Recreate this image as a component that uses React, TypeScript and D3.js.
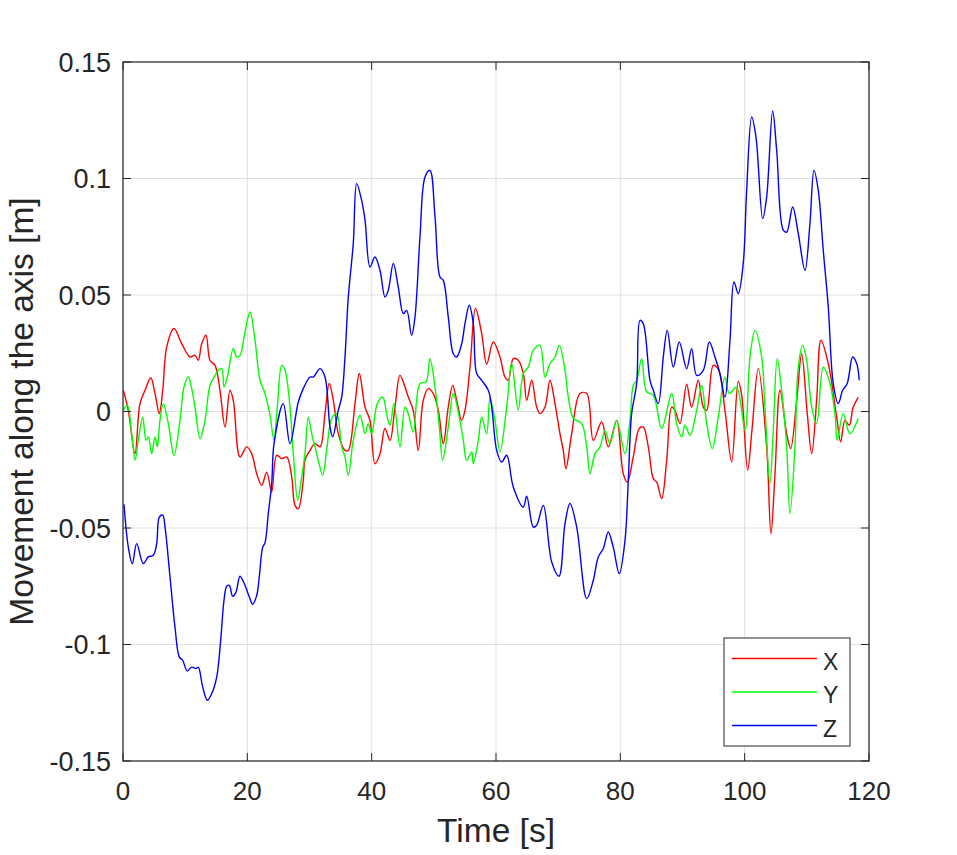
import * as d3 from 'd3';

// time [s], movement [m]
const seriesX: [number, number][] = [
  [0.05, 0.0091], [0.85, 0.0005], [1.93, -0.0181], [2.73, 0.0034], [3.54, 0.0091], [4.46, 0.0145],
  [5.15, 0.0077], [5.84, -0.0009], [6.39, 0.0091], [7.03, 0.0277], [8.2, 0.0356], [9.44, 0.0291],
  [10.78, 0.0234], [11.58, 0.0241], [12.11, 0.022], [12.66, 0.0291], [13.35, 0.0327], [13.99, 0.022],
  [14.8, 0.0198], [15.6, 0.0091], [16.41, -0.0067], [17.21, 0.0091], [17.74, 0.0048], [18.82, -0.0195],
  [19.9, -0.0152], [20.7, -0.0181], [21.51, -0.0267], [22.31, -0.0317], [23.11, -0.026], [23.92, -0.0345],
  [24.72, -0.0188], [25.53, -0.0202], [26.33, -0.0195], [27.14, -0.0281], [27.67, -0.0403], [28.2, -0.0417],
  [29.0, -0.0295], [29.27, -0.0209], [30.08, -0.0167], [30.88, -0.0138], [31.69, -0.0152], [32.49, -0.0009],
  [33.18, 0.012], [33.83, 0.0048], [34.63, -0.0095], [35.71, -0.0167], [36.24, -0.0167], [37.32, 0.0034],
  [38.01, 0.0163], [38.93, 0.0019], [39.73, -0.0038], [40.53, -0.0224], [41.34, -0.0181], [42.14, -0.0073],
  [42.95, -0.0124], [43.75, 0.0019], [44.56, 0.0155], [45.36, 0.0105], [45.89, 0.0062], [46.69, 0.0005],
  [47.5, -0.0167], [48.3, 0.0048], [49.11, 0.0098], [49.91, 0.0077], [50.72, 0.0005], [51.52, -0.0138],
  [52.32, 0.0019], [53.03, 0.0112], [53.68, 0.0048], [54.48, -0.0038], [55.01, 0.0005], [55.82, 0.0191],
  [56.7, 0.0442], [57.7, 0.0334], [58.5, 0.0203], [59.56, 0.0298], [60.64, 0.0234], [61.44, 0.0148],
  [61.98, 0.0134], [62.78, 0.0227], [63.58, 0.022], [64.39, 0.0163], [64.94, 0.0048], [65.74, 0.0134],
  [66.54, 0.0019], [67.07, -0.0009], [67.88, 0.0019], [68.68, 0.0134], [69.49, 0.0034], [70.29, -0.0095],
  [70.82, -0.0167], [71.26, -0.0245], [72.17, -0.0095], [73.51, 0.0077], [74.59, 0.0077], [75.65, -0.0124],
  [77.0, -0.0045], [78.06, -0.0152], [79.41, -0.0038], [80.47, -0.0267], [81.12, -0.0303], [82.08, -0.0195],
  [83.05, -0.0073], [83.69, -0.0067], [84.5, -0.0152], [85.3, -0.0288], [85.85, -0.0303], [86.65, -0.0374],
  [87.46, -0.0209], [88.26, 0.0019], [88.79, 0.0005], [89.59, -0.0052], [90.67, 0.0117], [91.47, 0.0018],
  [92.54, 0.0134], [93.34, 0.0019], [93.89, 0.0005], [94.95, 0.0198], [95.75, 0.0181], [96.83, 0.0005],
  [97.91, -0.0217], [98.97, 0.013], [99.52, 0.007], [100.48, -0.0252], [101.17, -0.0081], [102.19, 0.0184],
  [103.54, -0.0152], [104.23, -0.0524], [104.88, -0.0267], [105.68, 0.0091], [106.76, -0.0095], [107.4, -0.0159],
  [108.37, 0.0048], [109.17, 0.0248], [110.07, -0.0009], [110.78, -0.0181], [111.58, 0.0048], [112.27, 0.0306],
  [113.45, 0.0206], [114.8, -0.0024], [115.44, -0.0131], [116.13, -0.0038], [116.82, -0.0059], [117.46, 0.0019],
  [118.27, 0.0061],
];

const seriesY: [number, number][] = [
  [0.05, 0.0005], [0.69, 0.0027], [1.4, -0.0095], [1.93, -0.0209], [2.46, -0.0124], [3.17, -0.0024],
  [3.7, -0.0124], [4.07, -0.0109], [4.62, -0.0181], [5.15, -0.0109], [5.52, -0.0152], [5.95, -0.0038],
  [6.48, 0.0034], [7.29, -0.0052], [8.2, -0.0188], [9.17, -0.0038], [9.81, 0.0105], [10.5, 0.0148],
  [11.05, 0.0098], [11.58, 0.0019], [12.39, -0.0116], [13.19, -0.0038], [13.99, 0.0112], [14.8, 0.0155],
  [15.33, 0.0177], [15.88, 0.0184], [16.25, 0.0105], [16.78, 0.0148], [17.74, 0.027], [18.29, 0.0234],
  [18.82, 0.0241], [19.62, 0.0341], [20.43, 0.0427], [21.23, 0.0306], [22.04, 0.0134], [22.84, 0.0077],
  [23.64, -0.0016], [24.29, -0.0124], [24.82, 0.0019], [25.53, 0.0198], [26.06, 0.0177], [26.86, 0.0019],
  [27.39, -0.0181], [28.1, -0.0381], [28.74, -0.0281], [29.27, -0.0181], [29.81, -0.0024], [30.35, -0.0095],
  [30.88, -0.0152], [31.41, -0.0209], [32.12, -0.0274], [32.76, -0.0167], [33.57, -0.003], [34.37, -0.0009],
  [35.18, -0.0152], [35.71, -0.0195], [36.24, -0.0274], [37.04, -0.0124], [38.12, -0.0016], [38.93, -0.0095],
  [39.46, -0.0052], [40.0, -0.0095], [40.9, 0.0034], [41.77, 0.0062], [42.51, -0.0024], [42.95, -0.0059],
  [43.59, 0.0034], [44.56, -0.0152], [45.36, 0.0019], [45.89, -0.0009], [46.69, -0.0088], [47.77, 0.012],
  [48.74, 0.0127], [49.38, 0.0227], [50.19, 0.0105], [50.88, -0.0067], [51.42, -0.0209], [52.32, -0.0067],
  [53.13, 0.0077], [54.09, -0.0024], [54.74, -0.0124], [55.28, -0.0209], [56.09, -0.0174], [56.35, -0.0224],
  [57.15, -0.0124], [57.7, -0.0024], [58.5, -0.0095], [59.03, 0.0057], [59.84, -0.0038], [60.64, -0.0174],
  [61.72, 0.0019], [62.52, 0.0206], [63.58, 0.0005], [64.39, 0.0163], [65.19, 0.0191], [66.0, 0.0263],
  [67.07, 0.0284], [67.88, 0.0148], [68.68, 0.0206], [69.49, 0.0234], [70.18, 0.0284], [71.1, 0.0177],
  [71.63, 0.0062], [72.43, -0.0029], [73.78, -0.0052], [74.59, -0.0152], [75.12, -0.0267], [75.92, -0.0181],
  [76.73, -0.0152], [77.53, -0.0081], [78.33, -0.0138], [79.41, -0.0038], [80.75, -0.0181], [81.55, -0.0038],
  [82.08, 0.0112], [82.63, 0.0134], [83.43, 0.0227], [84.24, 0.0084], [85.3, 0.007], [86.65, -0.0073],
  [88.26, 0.0077], [89.06, -0.0052], [89.87, -0.0109], [90.4, -0.0059], [91.2, -0.0102], [92.28, 0.0005],
  [93.08, 0.0112], [93.89, -0.0052], [94.79, -0.0159], [95.75, -0.0024], [96.83, 0.0147], [97.52, 0.0077],
  [98.69, 0.0104], [100.05, -0.0081], [100.85, 0.0234], [101.66, 0.0348], [102.73, 0.0234], [103.26, 0.0019],
  [104.07, -0.0309], [104.6, -0.0081], [105.24, 0.0227], [105.95, 0.0091], [106.76, -0.0152], [107.29, -0.0438],
  [108.09, -0.0152], [108.62, 0.0191], [109.33, 0.0284], [109.97, 0.022], [110.78, 0.0019], [111.58, -0.0052],
  [112.64, 0.0191], [113.72, 0.012], [114.52, -0.0009], [114.89, -0.0124], [115.85, -0.0009], [116.92, -0.0095],
  [118.27, -0.003],
];

const seriesZ: [number, number][] = [
  [0.16, -0.0398], [0.85, -0.0581], [1.5, -0.0653], [2.2, -0.0567], [3.27, -0.0653], [4.07, -0.0624],
  [4.87, -0.0617], [5.42, -0.0567], [5.84, -0.0453], [6.39, -0.0445], [6.76, -0.0496], [7.56, -0.071],
  [8.36, -0.0925], [9.06, -0.1054], [9.6, -0.1068], [10.34, -0.1114], [11.05, -0.1097], [11.74, -0.1103],
  [12.11, -0.1097], [12.82, -0.1182], [13.56, -0.1239], [14.27, -0.1211], [15.07, -0.114], [15.71, -0.0982],
  [16.25, -0.081], [16.68, -0.075], [17.1, -0.0746], [17.64, -0.0793], [18.18, -0.0775], [18.82, -0.0707],
  [19.62, -0.0746], [20.32, -0.0796], [20.86, -0.0827], [21.51, -0.0789], [21.92, -0.071], [22.47, -0.0582],
  [22.84, -0.0564], [23.37, -0.0438], [23.92, -0.0309], [24.29, -0.0138], [25.78, 0.0034], [26.86, -0.0138],
  [28.2, 0.0041], [29.0, 0.0098], [30.08, 0.0148], [30.61, 0.0148], [31.69, 0.0184], [32.49, 0.0148],
  [33.3, -0.0067], [33.73, -0.0109], [34.63, 0.0005], [35.18, 0.0062], [35.71, 0.0234], [36.24, 0.0491],
  [37.04, 0.0721], [37.59, 0.0978], [38.39, 0.0906], [38.93, 0.0821], [39.73, 0.062], [40.53, 0.0663],
  [41.34, 0.0606], [42.14, 0.0491], [42.67, 0.052], [43.48, 0.0635], [44.28, 0.0534], [45.09, 0.042],
  [45.63, 0.0434], [46.43, 0.0327], [46.97, 0.0406], [47.77, 0.0749], [48.58, 0.1006], [49.38, 0.1035],
  [50.19, 0.0835], [50.99, 0.0577], [51.52, 0.0563], [52.32, 0.0406], [53.13, 0.0248], [53.68, 0.0234],
  [54.48, 0.0291], [55.01, 0.0377], [55.7, 0.0456], [56.35, 0.0377], [56.89, 0.0163], [57.7, 0.0134],
  [58.76, 0.0091], [59.31, 0.0019], [60.11, -0.0167], [60.91, -0.0217], [61.72, -0.0188], [62.78, -0.0324],
  [64.39, -0.041], [64.94, -0.0364], [66.0, -0.0496], [66.54, -0.0488], [67.61, -0.0403], [68.96, -0.0646],
  [70.13, -0.0707], [71.1, -0.0481], [71.9, -0.0395], [72.98, -0.0496], [74.59, -0.0803], [75.65, -0.0724],
  [76.45, -0.0624], [77.26, -0.0588], [78.06, -0.0517], [78.86, -0.0582], [79.83, -0.0696], [80.75, -0.0553],
  [81.28, -0.0295], [81.82, -0.0009], [82.63, 0.012], [83.16, 0.0391], [83.69, 0.0377], [84.77, 0.0134],
  [85.3, 0.0091], [86.1, 0.0034], [86.91, 0.0234], [87.55, 0.0348], [88.52, 0.0191], [89.48, 0.0298],
  [90.67, 0.0184], [91.47, 0.027], [92.28, 0.0155], [93.34, 0.0177], [94.31, 0.0298], [95.22, 0.0234],
  [96.03, 0.0163], [96.83, 0.0062], [97.64, 0.0306], [98.28, 0.0556], [98.97, 0.0506], [99.77, 0.0635],
  [100.32, 0.0949], [101.13, 0.1264], [101.82, 0.1178], [102.9, 0.0828], [103.54, 0.0921], [104.5, 0.129],
  [105.15, 0.1121], [106.21, 0.0778], [106.76, 0.077], [107.72, 0.0878], [108.62, 0.0764], [109.7, 0.0606],
  [110.5, 0.0806], [111.15, 0.1035], [111.84, 0.0949], [112.64, 0.0692], [113.45, 0.0448], [114.25, 0.012],
  [115.06, 0.0034], [115.76, 0.0091], [116.5, 0.012], [117.37, 0.0234], [118.02, 0.0206], [118.43, 0.0134],
];

const seriesNames = ['X', 'Y', 'Z'];
const seriesColors = ['#ff0000', '#00ff00', '#0000ff'];
const xTicks = [0, 20, 40, 60, 80, 100, 120];
const yTicks = [-0.15, -0.1, -0.05, 0, 0.05, 0.1, 0.15];

const W = 957;
const H = 855;
const margin = { top: 62, right: 88, bottom: 94, left: 123 };
const font = "'Liberation Sans', Arial, sans-serif";
const axisColor = '#262626';

const App = () => {
  const innerW = W - margin.left - margin.right;
  const innerH = H - margin.top - margin.bottom;

  const x = d3.scaleLinear().domain([0, 120]).range([0, innerW]);
  const y = d3.scaleLinear().domain([-0.15, 0.15]).range([innerH, 0]);

  const line = d3.line<[number, number]>()
    .x(d => x(d[0]))
    .y(d => y(d[1]))
    .curve(d3.curveCatmullRom.alpha(0.5));

  const allSeries = [seriesX, seriesY, seriesZ];
  const tickLen = 8;

  // legend box
  const lg = { x: 724 - margin.left, y: 638 - margin.top, w: 126, h: 108 };

  return (
    <svg width={W} height={H} style={{ position: 'absolute', left: 0, top: 0, background: '#fff' }}
      fontFamily={font}>
      <g transform={`translate(${margin.left},${margin.top})`}>
        {/* grid */}
        {xTicks.map(t => (
          <line key={'gx' + t} x1={x(t)} x2={x(t)} y1={0} y2={innerH} stroke="#dfdfdf" strokeWidth={1} />
        ))}
        {yTicks.map(t => (
          <line key={'gy' + t} x1={0} x2={innerW} y1={y(t)} y2={y(t)} stroke="#dfdfdf" strokeWidth={1} />
        ))}

        <defs>
          <clipPath id="plotClip">
            <rect x={0} y={0} width={innerW} height={innerH} />
          </clipPath>
        </defs>
        <g clipPath="url(#plotClip)">
          {allSeries.map((s, i) => (
            <path key={i} d={line(s) ?? ''} fill="none" stroke={seriesColors[i]} strokeWidth={1.4}
              strokeLinejoin="round" />
          ))}
        </g>

        {/* axes box and ticks */}
        <rect x={0} y={0} width={innerW} height={innerH} fill="none" stroke={axisColor} strokeWidth={1.2} />
        {xTicks.map(t => (
          <g key={'tx' + t}>
            <line x1={x(t)} x2={x(t)} y1={innerH} y2={innerH - tickLen} stroke={axisColor} />
            <line x1={x(t)} x2={x(t)} y1={0} y2={tickLen} stroke={axisColor} />
            <text x={x(t)} y={innerH + 39} textAnchor="middle" fontSize={26} fill={axisColor}>{t}</text>
          </g>
        ))}
        {yTicks.map(t => (
          <g key={'ty' + t}>
            <line x1={0} x2={tickLen} y1={y(t)} y2={y(t)} stroke={axisColor} />
            <line x1={innerW} x2={innerW - tickLen} y1={y(t)} y2={y(t)} stroke={axisColor} />
            <text x={-12} y={y(t)} dy="0.36em" textAnchor="end" fontSize={27} fill={axisColor}>
              {String(+t.toFixed(2))}
            </text>
          </g>
        ))}

        {/* legend */}
        <rect x={lg.x} y={lg.y} width={lg.w} height={lg.h} fill="#fff" stroke={axisColor} strokeWidth={1} />
        {seriesNames.map((n, i) => {
          const ly = lg.y + 20.5 + i * 33.5;
          return (
            <g key={n}>
              <line x1={lg.x + 8} x2={lg.x + 93} y1={ly} y2={ly} stroke={seriesColors[i]} strokeWidth={1.4} />
              <text x={lg.x + 99} y={ly + 11} fontSize={23} fill={axisColor}>{n}</text>
            </g>
          );
        })}
      </g>

      {/* axis labels */}
      <text x={margin.left + innerW / 2} y={842} textAnchor="middle" fontSize={33.5} fill={axisColor}>Time [s]</text>
      <text transform={`translate(33,${margin.top + innerH / 2}) rotate(-90)`} textAnchor="middle" fontSize={33.5}
        fill={axisColor}>Movement along the axis [m]</text>
    </svg>
  );
};

export default App;
